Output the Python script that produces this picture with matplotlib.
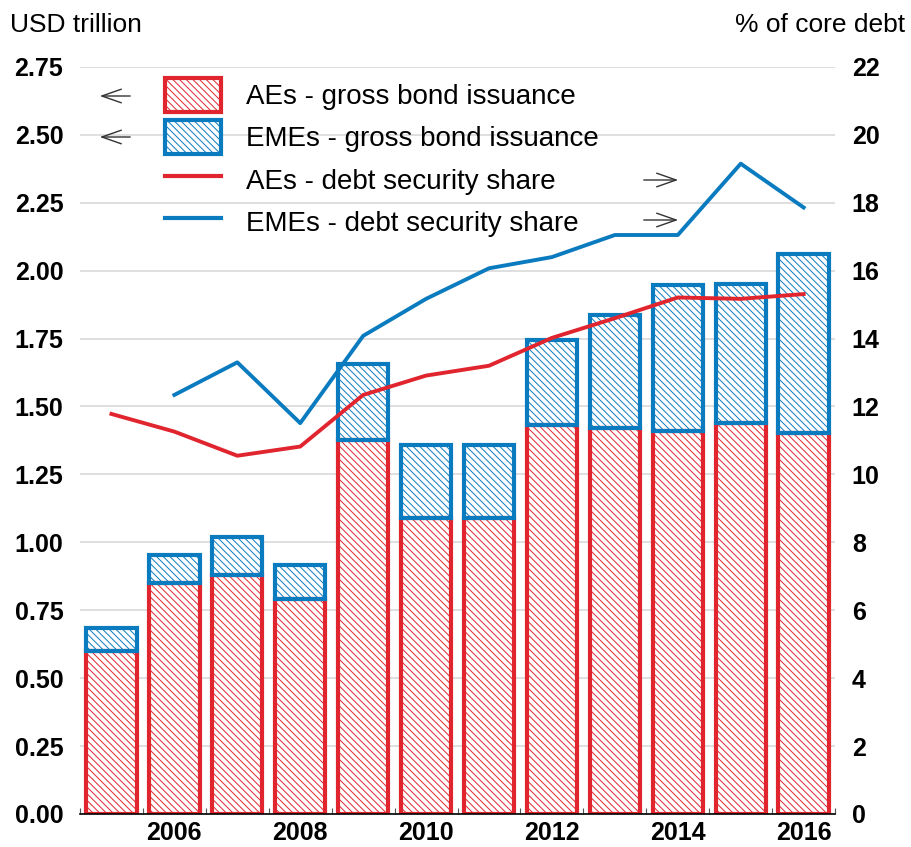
import numpy as np
import matplotlib
matplotlib.use("Agg")
import matplotlib.pyplot as plt
from matplotlib.patches import Patch
from matplotlib.lines import Line2D

plt.rcParams['font.family'] = ['Liberation Sans', 'DejaVu Sans']
plt.rcParams['hatch.linewidth'] = 0.7

# ------------------------------- DATA -------------------------------
years = [2005, 2006, 2007, 2008, 2009, 2010, 2011, 2012, 2013, 2014, 2015, 2016]
# gross bond issuance, USD trillion
aes_issuance = [0.60, 0.85, 0.88, 0.79, 1.377, 1.091, 1.09, 1.432, 1.422, 1.408, 1.438, 1.402]
emes_issuance = [0.085, 0.105, 0.14, 0.125, 0.28, 0.266, 0.27, 0.311, 0.413, 0.54, 0.512, 0.66]
# debt security share, % of core debt
aes_share = [11.78, 11.26, 10.55, 10.82, 12.34, 12.91, 13.2, 14.02, 14.6, 15.21, 15.17, 15.31]
emes_share = [np.nan, 12.34, 13.30, 11.51, 14.08, 15.17, 16.07, 16.4, 17.05, 17.05, 19.15, 17.86]

left_ticks = [0.0, 0.25, 0.5, 0.75, 1.0, 1.25, 1.5, 1.75, 2.0, 2.25, 2.5, 2.75]
right_ticks = [0, 2, 4, 6, 8, 10, 12, 14, 16, 18, 20, 22]
year_labels = ['2006', '2008', '2010', '2012', '2014', '2016']

red = '#e1252f'
blue = '#0b7bc0'
hatch = '\\\\\\\\\\'

# ------------------------------- PLOT -------------------------------
fig = plt.figure(figsize=(9.12, 8.47), dpi=100)
ax = fig.add_axes([0.0877, 0.039, 0.828, 0.882])
x = np.arange(len(years))
w = 0.8

ax.bar(x, aes_issuance, w, color='white', edgecolor=red, hatch=hatch, linewidth=0, zorder=2)
ax.bar(x, aes_issuance, w, fill=False, edgecolor=red, linewidth=3, zorder=3)
ax.bar(x, emes_issuance, w, bottom=aes_issuance, color='white', edgecolor=blue, hatch=hatch,
       linewidth=0, zorder=2)
ax.bar(x, emes_issuance, w, bottom=aes_issuance, fill=False, edgecolor=blue, linewidth=3, zorder=3)

ax.set_xlim(-0.5, len(years) - 0.5)
ax.set_ylim(0, 2.75)
ax.set_yticks(left_ticks)
ax.set_yticklabels(['%.2f' % t for t in left_ticks], fontsize=18, fontweight='bold')
ax.yaxis.grid(True, color='#d9d9d9', linewidth=1.2, zorder=0)
ax.set_axisbelow(True)
ax.tick_params(axis='y', length=0, pad=12)

ax.set_xticks([1, 3, 5, 7, 9, 11])
ax.set_xticklabels(year_labels, fontsize=18, fontweight='bold')
ax.set_xticks(np.arange(-0.5, len(years), 1), minor=True)
ax.tick_params(axis='x', which='major', length=0, pad=5)
ax.tick_params(axis='x', which='minor', length=4, direction='in', width=0.8, color='#555555')
for s in ['left', 'right', 'top']:
    ax.spines[s].set_visible(False)
ax.spines['bottom'].set_linewidth(1.2)
ax.spines['bottom'].set_zorder(4)

ax2 = ax.twinx()
ax2.plot(x, aes_share, color=red, linewidth=2.8, zorder=5)
ax2.plot(x, emes_share, color=blue, linewidth=2.8, zorder=5)
ax2.set_ylim(0, 22)
ax2.set_yticks(right_ticks)
ax2.set_yticklabels([str(t) for t in right_ticks], fontsize=18, fontweight='bold')
ax2.tick_params(axis='y', length=0, pad=12)
for s in ['left', 'right', 'top', 'bottom']:
    ax2.spines[s].set_visible(False)

fig.text(0.011, 0.970, 'USD trillion', fontsize=19, ha='left', va='center')
fig.text(0.993, 0.970, '% of core debt', fontsize=19, ha='right', va='center')

handles = [
    Patch(facecolor='white', edgecolor=red, hatch=hatch, linewidth=3),
    Patch(facecolor='white', edgecolor=blue, hatch=hatch, linewidth=3),
    Line2D([], [], color=red, linewidth=3),
    Line2D([], [], color=blue, linewidth=3),
]
labels = ['AEs - gross bond issuance', 'EMEs - gross bond issuance',
          'AEs - debt security share', 'EMEs - debt security share']
leg = ax2.legend(handles, labels, loc='upper left', bbox_to_anchor=(165 / 912, 1 - 78 / 847),
                 bbox_transform=fig.transFigure, frameon=False, fontsize=20,
                 handlelength=2.0, handleheight=1.5, labelspacing=0.3, handletextpad=0.9,
                 borderpad=0, borderaxespad=0)

# axis arrows next to the legend entries
arrow_style = dict(arrowstyle='->,head_length=1.0,head_width=0.35', lw=1.0, color='#333333',
                   mutation_scale=14)
for yy in [96, 137]:
    ax2.annotate('', xy=(97 / 912, 1 - yy / 847), xytext=(133 / 912, 1 - yy / 847),
                 xycoords='figure fraction', textcoords='figure fraction', arrowprops=arrow_style)
for yy in [180, 220]:
    ax2.annotate('', xy=(681 / 912, 1 - yy / 847), xytext=(641 / 912, 1 - yy / 847),
                 xycoords='figure fraction', textcoords='figure fraction', arrowprops=arrow_style)

fig.savefig('out.png', dpi=100)
